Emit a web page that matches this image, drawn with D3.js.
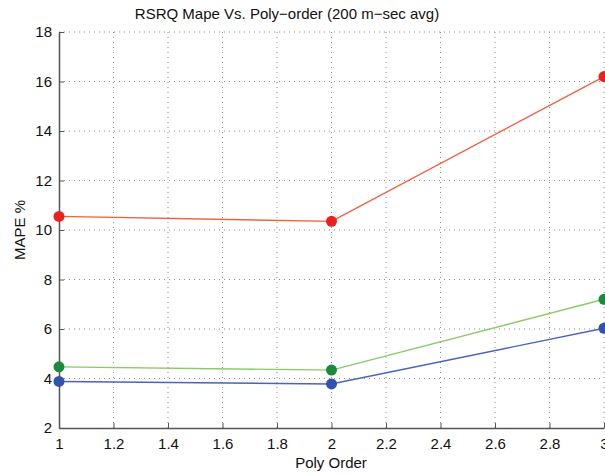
<!DOCTYPE html>
<html>
<head>
<meta charset="utf-8">
<script src="https://cdn.jsdelivr.net/npm/d3@7"></script>
<style>
  html, body { margin: 0; padding: 0; background: #fff; }
  svg { display: block; font-family: "Liberation Sans", Arial, Helvetica, sans-serif; }
</style>
</head>
<body>
<svg id="chart" width="605" height="475"></svg>
<script>
// Polynomial orders on the x axis
const polyOrders = [1, 2, 3];

// MAPE (%) for each series at each order
const seriesRed   = [10.55, 10.35, 16.2];
const seriesGreen = [4.47, 4.34, 7.2];
const seriesBlue  = [3.88, 3.78, 6.03];

// Tick values
const xTicks = [1, 1.2, 1.4, 1.6, 1.8, 2, 2.2, 2.4, 2.6, 2.8, 3];
const yTicks = [2, 4, 6, 8, 10, 12, 14, 16, 18];

const titleText = "RSRQ Mape Vs. Poly\u2212order (200 m\u2212sec avg)";
const xLabel = "Poly Order";
const yLabel = "MAPE %";

const series = [
  { values: seriesRed,   line: "#f2603f", dot: "#e8221e" },
  { values: seriesGreen, line: "#8acb6a", dot: "#1b8a3c" },
  { values: seriesBlue,  line: "#4a62c0", dot: "#3352ae" }
];

const svg = d3.select("#chart");
const plotLeft = 59, plotRight = 604, plotTop = 32, plotBottom = 428;

const x = d3.scaleLinear().domain([1, 3]).range([plotLeft, plotRight]);
const y = d3.scaleLinear().domain([2, 18]).range([plotBottom, plotTop]);

// Dotted grid
const grid = svg.append("g");
grid.selectAll("line.gx").data(xTicks.slice(1)).join("line")
  .attr("x1", d => x(d)).attr("x2", d => x(d))
  .attr("y1", plotBottom).attr("y2", plotTop)
  .attr("stroke", "#8a8a8a").attr("stroke-width", 1)
  .attr("stroke-dasharray", "1,4");
grid.selectAll("line.gy").data(yTicks.slice(1)).join("line")
  .attr("x1", plotLeft).attr("x2", plotRight)
  .attr("y1", d => y(d)).attr("y2", d => y(d))
  .attr("stroke", "#8a8a8a").attr("stroke-width", 1)
  .attr("stroke-dasharray", "1,4");

// Axes
const xAxis = d3.axisBottom(x).tickValues(xTicks).tickSizeInner(-5).tickSizeOuter(0)
  .tickPadding(10).tickFormat(d3.format("~g"));
const yAxis = d3.axisLeft(y).tickValues(yTicks).tickSizeInner(-5).tickSizeOuter(0)
  .tickPadding(7).tickFormat(d3.format("~g"));

const gx = svg.append("g").attr("transform", `translate(0,${plotBottom})`).call(xAxis);
const gy = svg.append("g").attr("transform", `translate(${plotLeft},0)`).call(yAxis);

[gx, gy].forEach(g => {
  g.select(".domain").attr("stroke", "#555").attr("stroke-width", 1.5);
  g.selectAll(".tick line").attr("stroke", "#555").attr("stroke-width", 1);
  g.selectAll(".tick text").attr("fill", "#111").attr("font-size", 15)
    .attr("font-family", "Liberation Sans, Arial, sans-serif");
});
gx.selectAll(".tick text").attr("dy", "0.71em");

// Series lines and markers
const line = d3.line().x((d, i) => x(polyOrders[i])).y(d => y(d));
series.forEach(s => {
  svg.append("path").datum(s.values)
    .attr("d", line).attr("fill", "none")
    .attr("stroke", s.line).attr("stroke-width", 1.4);
});
series.forEach(s => {
  svg.append("g").selectAll("circle").data(s.values).join("circle")
    .attr("cx", (d, i) => x(polyOrders[i])).attr("cy", d => y(d))
    .attr("r", 5.5).attr("fill", s.dot);
});

// Title and axis labels
svg.append("text").attr("x", 287).attr("y", 19).attr("text-anchor", "middle")
  .attr("font-size", 15).attr("fill", "#111").text(titleText);
svg.append("text").attr("x", 331).attr("y", 468).attr("text-anchor", "middle")
  .attr("font-size", 15).attr("fill", "#111").text(xLabel);
svg.append("text").attr("transform", `translate(25,${(plotTop + plotBottom) / 2}) rotate(-90)`)
  .attr("text-anchor", "middle").attr("font-size", 15).attr("fill", "#111").text(yLabel);
</script>
</body>
</html>
